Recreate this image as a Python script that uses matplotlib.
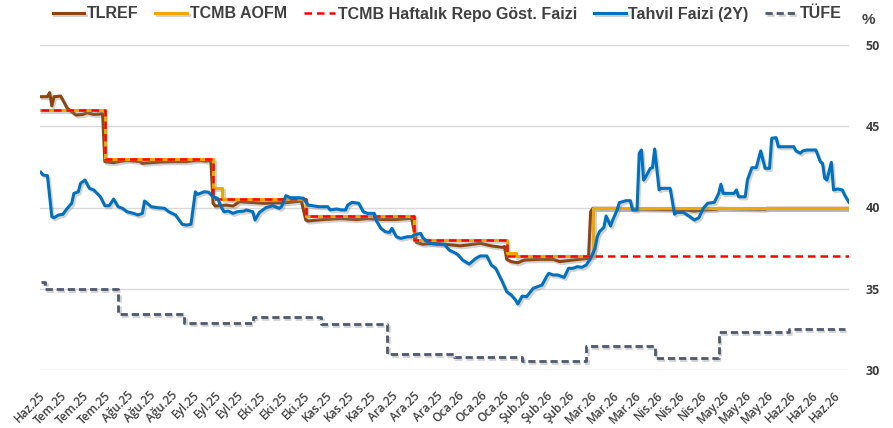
import numpy as np
import matplotlib
matplotlib.use("Agg")
import matplotlib.pyplot as plt
import matplotlib.patheffects as pe

# x values are calendar days counted from 30 Jun 2025 (one tick every 10 days)
tick_labels = ['Haz.25', 'Tem.25', 'Tem.25', 'Tem.25', 'Ağu.25', 'Ağu.25', 'Ağu.25',
               'Eyl.25', 'Eyl.25', 'Eyl.25', 'Eki.25', 'Eki.25', 'Eki.25',
               'Kas.25', 'Kas.25', 'Kas.25', 'Ara.25', 'Ara.25', 'Ara.25',
               'Oca.26', 'Oca.26', 'Oca.26', 'Şub.26', 'Şub.26', 'Şub.26',
               'Mar.26', 'Mar.26', 'Mar.26', 'Nis.26', 'Nis.26', 'Nis.26',
               'May.26', 'May.26', 'May.26', 'Haz.26', 'Haz.26', 'Haz.26']

# policy rate (weekly repo), step changes
repo_days = [-1, 28, 77, 119, 168, 210, 365]
repo_rate = [46, 43, 40.5, 39.5, 38, 37, 37]

# CBRT weighted average funding cost
aofm_days = [-1, 28, 77, 81, 119, 168, 210, 214, 249, 365]
aofm_rate = [46, 43, 41.2, 40.5, 39.5, 38, 37.2, 37, 40, 40]

# TLREF
tlref_days = [-1, 2, 3, 4, 5, 8, 11, 13, 15, 18,
              20, 23, 27, 28, 32, 38, 44, 45, 53, 59,
              65, 70, 74, 76, 77, 78, 83, 86, 89, 100,
              110, 117, 119, 120, 127, 135, 142, 147, 154, 160,
              165, 167, 169, 172, 177, 182, 189, 192, 198, 203,
              208, 209, 210, 212, 215, 218, 225, 231, 234, 240,
              247, 248, 249, 260, 291, 295, 299, 305, 306, 327,
              328, 340, 365]
tlref = [46.82, 46.82, 47.07, 46.25, 46.82, 46.86, 46.1, 45.9, 45.69, 45.73,
         45.83, 45.73, 45.77, 42.82, 42.76, 42.92, 42.82, 42.72, 42.8, 42.82,
         42.82, 42.92, 42.86, 42.92, 40.26, 40.09, 40.15, 40.09, 40.36, 40.26,
         40.3, 40.4, 39.23, 39.17, 39.26, 39.32, 39.26, 39.32, 39.26, 39.26,
         39.32, 39.32, 37.86, 37.74, 37.8, 37.74, 37.64, 37.69, 37.8, 37.64,
         37.55, 37.6, 36.81, 36.67, 36.6, 36.77, 36.81, 36.81, 36.67, 36.77,
         36.87, 39.74, 39.95, 39.95, 39.85, 39.78, 39.85, 39.9, 39.95, 39.9,
         39.95, 39.95, 39.95]

# 2Y government bond yield
bond_days = [-1, 0, 2, 4, 5, 7, 9, 11, 13, 14,
             16, 17, 19, 21, 23, 26, 28, 30, 32, 34,
             36, 38, 41, 43, 45, 46, 49, 52, 55, 57,
             60, 63, 65, 67, 69, 70, 73, 75, 77, 79,
             81, 82, 84, 86, 88, 91, 92, 95, 96, 98,
             101, 104, 107, 108, 110, 112, 116, 118, 120, 122,
             125, 129, 130, 133, 135, 137, 138, 140, 143, 145,
             147, 150, 151, 153, 155, 157, 158, 160, 162, 165,
             167, 168, 171, 172, 175, 178, 181, 182, 184, 187,
             188, 190, 193, 196, 198, 201, 203, 205, 208, 210,
             212, 214, 215, 217, 219, 220, 222, 224, 226, 228,
             229, 231, 233, 236, 238, 240, 242, 244, 246, 248,
             250, 251, 252, 254, 255, 257, 258, 260, 261, 264,
             266, 267, 269, 270, 271, 272, 273, 275, 276, 277,
             279, 280, 284, 286, 287, 290, 293, 295, 297, 299,
             301, 304, 306, 307, 308, 311, 313, 314, 315, 318,
             319, 321, 323, 325, 327, 329, 330, 332, 333, 337,
             340, 341, 343, 344, 346, 350, 352, 353, 354, 355,
             357, 358, 360, 362, 363, 365]
bond = [42.17, 42.0, 41.96, 39.43, 39.37, 39.54, 39.58, 39.95, 40.26, 40.87,
        40.97, 41.49, 41.69, 41.18, 41.08, 40.66, 40.11, 40.11, 40.52, 40.05,
        39.95, 39.74, 39.64, 39.54, 39.64, 40.4, 40.05, 39.99, 39.95, 39.74,
        39.54, 38.97, 38.92, 38.97, 40.97, 40.81, 40.97, 40.94, 40.66, 40.57,
        39.95, 39.74, 39.78, 39.64, 39.74, 39.78, 39.85, 39.74, 39.23, 39.7,
        39.99, 40.11, 39.95, 40.05, 40.73, 40.6, 40.6, 40.57, 40.15, 40.11,
        40.05, 40.05, 39.85, 39.91, 39.85, 39.85, 40.15, 40.32, 40.26, 39.74,
        39.64, 39.64, 39.17, 38.72, 38.51, 38.47, 38.72, 38.2, 38.1, 38.2,
        38.2, 38.31, 38.41, 38.14, 37.8, 37.74, 37.74, 37.69, 37.38, 37.18,
        37.08, 36.77, 36.52, 36.87, 37.02, 37.02, 36.46, 36.26, 35.43, 34.82,
        34.62, 34.31, 34.06, 34.55, 34.51, 34.68, 35.03, 35.13, 35.23, 35.74,
        35.95, 35.85, 35.85, 35.7, 36.26, 36.26, 36.36, 36.32, 36.46, 36.87,
        37.49, 38.2, 38.51, 38.78, 39.48, 38.86, 39.23, 39.85, 40.3, 40.42,
        40.42, 39.85, 39.85, 43.34, 43.54, 41.69, 41.9, 42.41, 42.45, 43.6,
        41.08, 41.18, 41.18, 39.58, 39.7, 39.7, 39.43, 39.23, 39.37, 39.95,
        40.26, 40.32, 40.87, 41.43, 40.87, 40.87, 40.87, 41.08, 40.66, 40.66,
        41.69, 42.45, 42.45, 43.48, 42.41, 42.41, 44.26, 44.3, 43.74, 43.74,
        43.74, 43.48, 43.34, 43.48, 43.54, 43.54, 42.82, 42.72, 41.8, 41.69,
        42.78, 41.08, 41.14, 41.08, 40.77, 40.32]

# annual CPI inflation, changes on release days
cpi_days = [-1, 1, 34, 64, 95, 126, 156, 186, 217, 246, 277, 306, 338, 363]
cpi = [35.4, 35.0, 33.45, 32.87, 33.24, 32.83, 30.98, 30.82, 30.57, 31.48,
       30.74, 32.32, 32.52, 32.52]

text_color = '#404040'

fig = plt.figure(figsize=(8.93, 4.28), dpi=100)
ax = fig.add_axes([40 / 893, 1 - 370 / 428, 809 / 893, 325 / 428])

shadow = [pe.SimpleLineShadow(offset=(1.2, -1.5), shadow_color='#808080', alpha=0.35),
          pe.Normal()]

l_cpi, = ax.plot(cpi_days, cpi, drawstyle='steps-post', color='#4E586E', lw=2.0,
                 dashes=(2.6, 1.4), label='TÜFE', path_effects=shadow, zorder=2)
l_tlref, = ax.plot(tlref_days, tlref, color='#8B4513', lw=2.2, label='TLREF',
                   path_effects=shadow, zorder=3)
l_aofm, = ax.plot(aofm_days, aofm_rate, drawstyle='steps-post', color='#F0A800', lw=2.2,
                  label='TCMB AOFM', path_effects=shadow, zorder=4)
l_repo, = ax.plot(repo_days, repo_rate, drawstyle='steps-post', color='#FF0000', lw=1.8,
                  dashes=(3, 2), label='TCMB Haftalık Repo Göst. Faizi', zorder=5)
l_bond, = ax.plot(bond_days, bond, color='#0070C0', lw=2.2, label='Tahvil Faizi (2Y)',
                  path_effects=shadow, zorder=6)

ax.set_xlim(-1.36, 365.0)
ax.set_ylim(30, 50)
ax.set_xticks(np.arange(0, 361, 10))
ax.set_xticklabels(tick_labels, rotation=45, ha='right', va='center', rotation_mode='anchor',
                   fontsize=8.5, fontweight='semibold', family='Open Sans', color=text_color)
ax.tick_params(axis='x', length=0, pad=17)

ax.yaxis.tick_right()
ax.set_yticks([30, 35, 40, 45, 50])
ax.tick_params(axis='y', length=0, pad=12, labelsize=9, labelcolor=text_color)
for lbl in ax.get_yticklabels():
    lbl.set_fontweight('bold')
    lbl.set_family('Open Sans')

ax.grid(axis='y', color='#D9D9D9', lw=1)
ax.set_axisbelow(True)
for s in ax.spines.values():
    s.set_visible(False)

fig.text(868 / 893, 1 - 20 / 428, '%', ha='center', va='center', fontsize=11,
         fontweight='bold', family='Liberation Sans', color=text_color)

handles = [l_tlref, l_aofm, l_repo, l_bond, l_cpi]
leg = fig.legend(handles=handles, labels=[h.get_label() for h in handles],
                 loc='center', bbox_to_anchor=(447 / 893, 1 - 14 / 428), ncol=5,
                 frameon=False, handlelength=2.0, handletextpad=0.15, columnspacing=1.05,
                 prop={'family': 'Liberation Sans', 'weight': 'bold', 'size': 11.5})
for t in leg.get_texts():
    t.set_color(text_color)

fig.savefig('out.png', dpi=100, facecolor='white')
